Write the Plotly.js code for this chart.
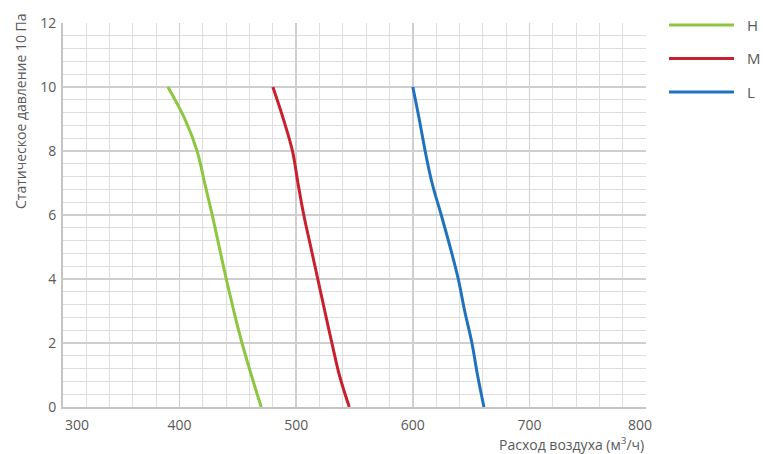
<!DOCTYPE html>
<html>
<head>
<meta charset="utf-8">
<script src="https://cdn.plot.ly/plotly-3.0.1.min.js"></script>
<style>html,body{margin:0;padding:0;background:#fff;}#chart{width:763px;height:454px;}</style>
</head>
<body>
<div id="chart"></div>
<script>
const pressure = [10, 9, 8, 7, 6, 5, 4, 3, 2, 1, 0];
const flowH = [390, 404.5, 415, 421.5, 428, 434, 440, 446.5, 453.5, 461.5, 470];
const flowM = [480, 489, 496.8, 501.5, 506.5, 512.5, 518.5, 524.5, 530.6, 537, 545.5];
const flowL = [600, 605.5, 610.6, 616.5, 624.4, 632, 639, 644.5, 650.7, 655.5, 661];
const seriesNames = ['H', 'M', 'L'];
const seriesColors = ['#8DC63F', '#C8202F', '#1F73BE'];
const xTicks = [300, 400, 500, 600, 700, 800];
const yTicks = [0, 2, 4, 6, 8, 10, 12];
const xTitle = 'Расход воздуха (м<sup>3</sup>/ч)';
const yTitle = 'Статическое давление 10 Па';

const font = 'Open Sans, Noto Sans, sans-serif';
const W = 763, H = 454;
const M = {l: 63, r: 117, t: 23, b: 47};
const pw = W - M.l - M.r, ph = H - M.t - M.b;
const flows = [flowH, flowM, flowL];
const traces = flows.map((f, i) => ({
  x: f, y: pressure, type: 'scatter', mode: 'lines', name: seriesNames[i],
  line: {color: seriesColors[i], width: 3, shape: 'spline', smoothing: 1},
  hoverinfo: 'skip', showlegend: false
}));

const tickFont = {family: font, size: 14, color: '#595959'};
const annotations = [
  {x: xTicks[0], y: 0, xref: 'x', yref: 'paper', text: String(xTicks[0]), showarrow: false,
   xanchor: 'left', yanchor: 'top', yshift: -6, font: tickFont},
  {x: xTicks[xTicks.length - 1], y: 0, xref: 'x', yref: 'paper', text: String(xTicks[xTicks.length - 1]), showarrow: false,
   xanchor: 'center', xshift: -6, yanchor: 'top', yshift: -6, font: tickFont},
  {x: 1, y: 0, xref: 'paper', yref: 'paper', text: xTitle, showarrow: false,
   xanchor: 'right', yanchor: 'top', xshift: 0, yshift: -25, font: {family: font, size: 14, color: '#595959'}},
  {x: 0, y: 1, xref: 'paper', yref: 'paper', text: yTitle, showarrow: false, textangle: -90,
   xanchor: 'center', yanchor: 'top', xshift: -43, yshift: 12, font: {family: font, size: 14, color: '#595959'}}
];

// custom legend (long line samples as in reference)
const shapes = [];
seriesNames.forEach((n, i) => {
  const yPx = 25 + i * 33.5;
  const yp = 1 - (yPx - M.t) / ph;
  const x0 = (669 - M.l) / pw, x1 = (734 - M.l) / pw;
  shapes.push({type: 'line', xref: 'paper', yref: 'paper', x0: x0, x1: x1, y0: yp, y1: yp,
    line: {color: seriesColors[i], width: 3}});
  annotations.push({x: (745 - M.l) / pw, y: yp, xref: 'paper', yref: 'paper', text: n, showarrow: false,
    xanchor: 'left', yanchor: 'middle', font: {family: font, size: 15, color: '#595959'}});
});

const layout = {
  width: W, height: H,
  margin: M,
  paper_bgcolor: '#fff', plot_bgcolor: '#fff',
  font: {family: font, color: '#595959'},
  showlegend: false,
  xaxis: {
    range: [300, 800], tickvals: xTicks.slice(1, -1), ticktext: xTicks.slice(1, -1).map(String),
    showgrid: true, gridcolor: '#cfcfcf', gridwidth: 1.5,
    minor: {dtick: 20, showgrid: true, gridcolor: '#dedede', gridwidth: 1},
    showline: true, linecolor: '#c4c4c4', linewidth: 2, zeroline: false,
    ticks: '', tickfont: tickFont, ticklabelstandoff: 4
  },
  yaxis: {
    range: [0, 12], tickvals: yTicks,
    showgrid: true, gridcolor: '#cfcfcf', gridwidth: 1.5,
    minor: {dtick: 0.4, showgrid: true, gridcolor: '#dedede', gridwidth: 1},
    showline: true, linecolor: '#c4c4c4', linewidth: 2, zeroline: false,
    ticks: '', tickfont: tickFont, ticklabelstandoff: 2
  },
  shapes: shapes,
  annotations: annotations
};
Plotly.newPlot('chart', traces, layout, {staticPlot: true, displayModeBar: false});
</script>
</body>
</html>
